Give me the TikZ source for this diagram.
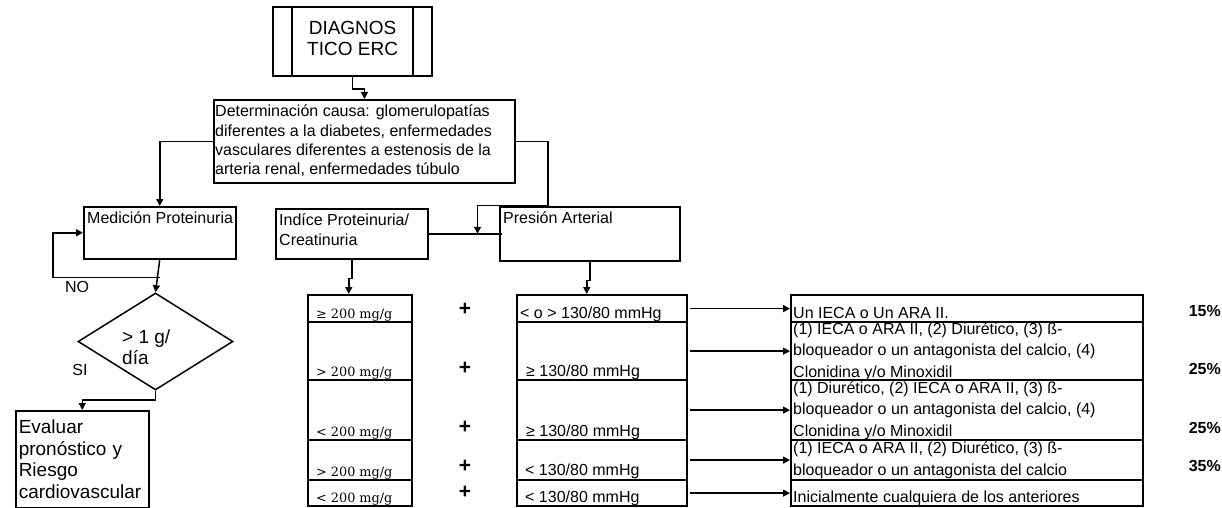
\documentclass[tikz,border=0pt]{standalone}
\usepackage{fontspec}
\setmainfont{Liberation Sans}
\newfontfamily\mgfont{DejaVu Serif}
\usetikzlibrary{arrows.meta,shapes.geometric,positioning}

\newcommand{\fbody}{\fontsize{16}{19.3}\selectfont}
\newcommand{\fbig}{\fontsize{19}{21.5}\selectfont}
\newcommand{\fcell}{\fontsize{16}{21.5}\selectfont}
\newcommand{\fmg}{\mgfont\fontsize{12.8}{15}\selectfont}

\begin{document}
\begin{tikzpicture}[x=1pt, y=-1pt,
  box/.style={draw, line width=1.5pt, inner sep=0pt, anchor=north west},
  cell/.style={draw, line width=2.2pt, inner sep=0pt, anchor=north west},
  dec/.style={diamond, draw, line width=1.5pt, minimum width=155pt,
              minimum height=97pt, inner sep=0pt},
  txt/.style={inner sep=0pt, anchor=north west, align=left, font=\fbody},
  rowtxt/.style={inner sep=0pt, anchor=base west, align=left, font=\fcell},
  mgtxt/.style={inner sep=0pt, anchor=base west, font=\fmg},
  pct/.style={inner sep=0pt, anchor=east, font=\fbody\bfseries},
  plus/.style={inner sep=0pt, font=\fontsize{21}{23}\selectfont\bfseries},
  arr/.style={-{Triangle[length=7pt,width=7pt]}, line width=1.5pt},
  ln/.style={line width=1.5pt},
]
\useasboundingbox (0,0) rectangle (1222,508);

% --- top of the chart ---
\node[box, line width=2.2pt, minimum width=159pt, minimum height=69pt] (diag) at (272,6) {};
\node[align=center, font=\fbig, inner sep=0pt] (diagtxt) at ([yshift=3pt]diag.center) {DIAGNOS\\TICO ERC};
\draw[ln, line width=2.2pt] ([xshift=20pt]diag.north west) -- ([xshift=20pt]diag.south west);
\draw[ln, line width=2.2pt] ([xshift=-20pt]diag.north east) -- ([xshift=-20pt]diag.south east);

\node[box, line width=1.8pt, minimum width=301pt, minimum height=83pt] (det) at (213,99) {};
\node[txt] (dettxt) at ([shift={(2,6)}]det.north west)
  {Determinación causa: glomerulopatías\\diferentes a la diabetes, enfermedades\\
   vasculares diferentes a estenosis de la\\arteria renal, enfermedades túbulo};

\draw[arr] (diag.south) -- ++(0,12) -| (det.north);

% --- second level ---
\node[box, minimum width=152pt, minimum height=52pt] (med) at (83,206) {};
\node[txt] (medtxt) at ([shift={(4,6)}]med.north west) {Medición Proteinuria};

\node[box, minimum width=152pt, minimum height=50pt] (ind) at (275,208) {};
\node[txt] (indtxt) at ([shift={(4,6)}]ind.north west) {Indíce Proteinuria/\\Creatinuria};

\node[box, minimum width=180pt, minimum height=54pt] (pres) at (499,206) {};
\node[txt] (prestxt) at ([shift={(4,6)}]pres.north west) {Presión Arterial};

\coordinate (jn) at ([xshift=49pt]ind.east);
\draw[ln] (ind.east) -- ([xshift=3pt]pres.west);
\draw[arr] (det.west) -| (med.north);
\draw[arr] (det.east) -| ++(32,64) -| (jn);

% --- proteinuria loop ---
\node[dec] (dia) at (155.5,341.5) {};
\node[inner sep=0pt, anchor=west, align=left, font=\fbig] (diatxt) at (122,347) {> 1 g/\\día};
\coordinate (lp) at ([yshift=-18pt]med.south);
\draw[arr] (med.south) -- (dia.north);
\draw[arr] (lp) -| ([xshift=-30pt]med.west) -- (med.west);
\node[font=\fbody] (nolab) at (77,287) {NO};
\node[font=\fbody] (silab) at (80,370) {SI};

\node[box, minimum width=133pt, minimum height=97pt, text width=127pt, inner sep=3pt,
      align=left, font=\fbig] (eva) at (15,410) {Evaluar\\pronóstico y\\Riesgo\\cardiovascular};
\draw[arr] (dia.south) -- ++(0,9) -| (eva.north);

% --- table rows ---
\foreach \i/\t/\h in {1/294/27, 2/321/58, 3/379/60, 4/439/40, 5/479/26}{
  \node[cell, minimum width=104pt, minimum height=\h pt] (a\i) at (307,\t) {};
  \node[cell, minimum width=170pt, minimum height=\h pt] (b\i) at (516,\t) {};
  \node[cell, minimum width=352pt, minimum height=\h pt] (c\i) at (790,\t) {};
}

\draw[arr] (ind.south) -- ++(0,19) -- ++(-3,0) -- ([xshift=-3pt]ind.south |- a1.north);
\draw[arr] (pres.south) -- ++(0,19) -- ++(-3,0) -- ([xshift=-3pt]pres.south |- b1.north);

% proteinuria column
\node[mgtxt] (a1t) at ([shift={(9,-5)}]a1.south west) {≥ 200 mg/g};
\node[mgtxt] (a2t) at ([shift={(9,-5)}]a2.south west) {> 200 mg/g};
\node[mgtxt] (a3t) at ([shift={(9,-5)}]a3.south west) {< 200 mg/g};
\node[mgtxt] (a4t) at ([shift={(9,-5)}]a4.south west) {> 200 mg/g};
\node[mgtxt] (a5t) at ([shift={(9,-5)}]a5.south west) {< 200 mg/g};

% plus signs
\foreach \i/\py in {1/309, 2/368, 3/427, 4/466, 5/492}{
  \node[plus] (p\i) at (465,\py) {+};
}

% pressure column
\node[rowtxt] (b1t) at ([shift={(4,-5)}]b1.south west) {< o > 130/80 mmHg};
\node[rowtxt] (b2t) at ([shift={(10,-5)}]b2.south west) {≥ 130/80 mmHg};
\node[rowtxt] (b3t) at ([shift={(10,-5)}]b3.south west) {≥ 130/80 mmHg};
\node[rowtxt] (b4t) at ([shift={(9,-6)}]b4.south west) {< 130/80 mmHg};
\node[rowtxt] (b5t) at ([shift={(9,-5)}]b5.south west) {< 130/80 mmHg};

% treatment column
\node[rowtxt] (c1t) at ([shift={(3,-5)}]c1.south west) {Un IECA o Un ARA II.};
\node[rowtxt] (c2t) at ([shift={(3,-4)}]c2.south west)
  {(1) IECA o ARA II, (2) Diurético, (3) ß-\\bloqueador o un antagonista del calcio, (4)\\Clonidina y/o Minoxidil};
\node[rowtxt] (c3t) at ([shift={(3,-5)}]c3.south west)
  {(1) Diurético, (2) IECA o ARA II, (3) ß-\\bloqueador o un antagonista del calcio, (4)\\Clonidina y/o Minoxidil};
\node[rowtxt] (c4t) at ([shift={(3,-6)}]c4.south west)
  {(1) IECA o ARA II, (2) Diurético, (3) ß-\\bloqueador o un antagonista del calcio};
\node[rowtxt] (c5t) at ([shift={(3,-5)}]c5.south west) {Inicialmente cualquiera de los anteriores};

\foreach \i in {1,...,5}{
  \draw[arr] ([xshift=2pt]b\i.east) -- (c\i.west);
}

% percentages
\node[pct] (pct1) at (1221,311) {15\%};
\node[pct] (pct2) at (1221,369) {25\%};
\node[pct] (pct3) at (1221,428) {25\%};
\node[pct] (pct4) at (1221,466) {35\%};

\end{tikzpicture}
\end{document}
